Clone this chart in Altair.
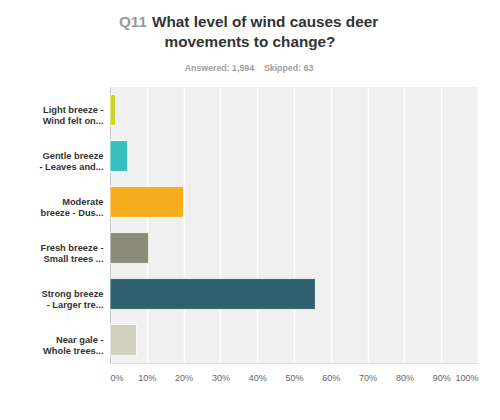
import altair as alt
import pandas as pd

categories = [
    "Light breeze -|Wind felt on...",
    "Gentle breeze|- Leaves and...",
    "Moderate|breeze - Dus...",
    "Fresh breeze -|Small trees ...",
    "Strong breeze|- Larger tre...",
    "Near gale -|Whole trees...",
]
values = [0.015, 0.048, 0.200, 0.105, 0.558, 0.072]
colors = ["#cdd52a", "#35bfbf", "#f6ae1f", "#8a8b78", "#2e5f6d", "#d1d0c0"]
x_ticks = [0, 0.1, 0.2, 0.3, 0.4, 0.5, 0.6, 0.7, 0.8, 0.9, 1.0]

title_q = "Q11"
title_line1 = "What level of wind causes deer"
title_line2 = "movements to change?"
subtitle = "Answered: 1,594\u00a0\u00a0\u00a0\u00a0Skipped: 63"

FONT = "Liberation Sans"

df = pd.DataFrame({"answer": categories, "pct": values})

bars = alt.Chart(df).mark_bar(stroke="#ffffff", strokeWidth=1, strokeOpacity=0.8).encode(
    y=alt.Y(
        "answer:N",
        sort=None,
        title=None,
        scale=alt.Scale(paddingInner=0.33, paddingOuter=0.165),
        axis=alt.Axis(
            labelExpr="split(datum.label, '|')",
            labelFont=FONT,
            labelFontSize=9.3,
            labelFontWeight="bold",
            labelColor="#333333",
            labelLineHeight=11,
            labelPadding=7,
            ticks=False,
            domainColor="#c8c8c8",
            domainWidth=1,
            grid=False,
            labelLimit=200,
        ),
    ),
    x=alt.X(
        "pct:Q",
        title=None,
        scale=alt.Scale(domain=[0, 1], nice=False),
        axis=alt.Axis(
            values=x_ticks,
            format=".0%",
            labelFlush=True,
            labelFont=FONT,
            labelFontSize=9,
            labelColor="#666666",
            labelPadding=10,
            ticks=False,
            grid=True,
            gridColor="#ffffff",
            gridWidth=1.5,
            domainColor="#dddddd",
            domainWidth=1,
        ),
    ),
    color=alt.Color(
        "answer:N",
        scale=alt.Scale(domain=categories, range=colors),
        legend=None,
    ),
)

one = alt.Data(values=[{}])

t_q = alt.Chart(one).mark_text(
    text=title_q, font=FONT, fontSize=15.3, fontWeight="bold", color="#999999",
    align="right", baseline="alphabetic",
).encode(x=alt.value(37), y=alt.value(-60))

t_1 = alt.Chart(one).mark_text(
    text=title_line1, font=FONT, fontSize=15.3, fontWeight="bold", color="#333333",
    align="left", baseline="alphabetic",
).encode(x=alt.value(42), y=alt.value(-60))

t_2 = alt.Chart(one).mark_text(
    text=title_line2, font=FONT, fontSize=15.3, fontWeight="bold", color="#333333",
    align="center", baseline="alphabetic",
).encode(x=alt.value(140), y=alt.value(-40))

t_s = alt.Chart(one).mark_text(
    text=subtitle, font=FONT, fontSize=8.8, fontWeight="bold", color="#a0a0a0",
    align="center", baseline="alphabetic",
).encode(x=alt.value(139), y=alt.value(-16))

chart = alt.layer(bars, t_q, t_1, t_2, t_s).properties(
    width=368,
    height=276,
    autosize=alt.AutoSizeParams(type="none"),
    padding={"left": 102, "top": 79, "right": 14, "bottom": 49},
    background="#ffffff",
).configure_view(fill="#f0f0f0", stroke=None)

chart.save("out.html", embed_options={"renderer": "svg", "actions": False})
